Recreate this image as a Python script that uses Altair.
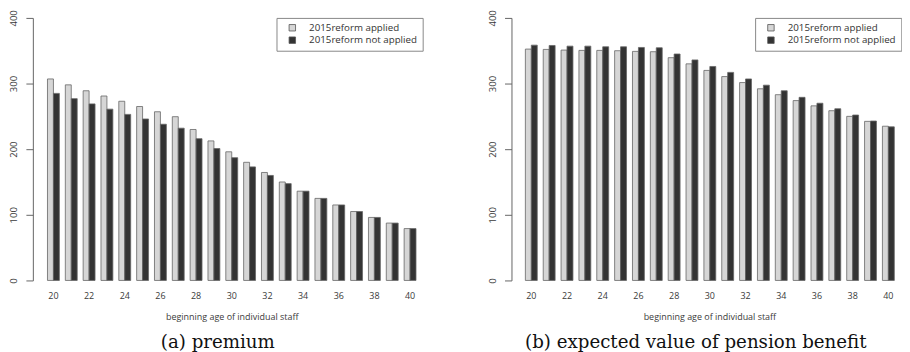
import altair as alt
import pandas as pd

ages = list(range(20, 41))
series = ["2015reform applied", "2015reform not applied"]

premium_applied = [307, 298, 289, 281, 273, 265, 257, 249.5, 230, 212.6, 196, 180, 164.5, 150, 136, 125, 115, 105, 96, 87.4, 79]
premium_not_applied = [285, 277, 269, 261, 253, 246, 238, 232, 216, 201, 187, 173, 160, 147.5, 136, 125, 115, 105, 96, 87.4, 79]

benefit_applied = [352.5, 352, 351, 350.5, 350.5, 350, 349, 348.5, 339.4, 330, 320, 310.6, 301.5, 292, 283, 274, 266, 258.6, 250, 242.4, 235]
benefit_not_applied = [358.5, 358, 357, 357, 356, 356, 355, 354.5, 345, 336, 326, 317, 307, 297.5, 289, 279, 270, 261.6, 252, 242.9, 234]

x_ticks = [20, 22, 24, 26, 28, 30, 32, 34, 36, 38, 40]
y_ticks = [0, 100, 200, 300, 400]

SANS = "Open Sans"
SERIF = "DejaVu Serif"
TXT = "#3a3a3a"


def frame(a, b):
    rows = []
    for i, age in enumerate(ages):
        rows.append({"age": age, "series": series[0], "value": a[i]})
        rows.append({"age": age, "series": series[1], "value": b[i]})
    return pd.DataFrame(rows)


def panel(df, caption, width, pad_outer, align, cap_dx, title_x=None):
    xaxis_kwargs = dict(
        values=x_ticks, labelAngle=0, ticks=False, domain=False,
        labelFont=SANS, labelFontSize=9, labelColor=TXT, labelPadding=11,
        title="beginning age of individual staff", titleFont=SANS,
        titleFontSize=9, titleFontWeight="normal", titleColor=TXT,
        titlePadding=12, grid=False,
    )
    if title_x is not None:
        xaxis_kwargs["titleX"] = title_x
    return alt.Chart(df).mark_bar(stroke="#666666", strokeWidth=0.8).encode(
        x=alt.X("age:O", scale=alt.Scale(paddingInner=1/3, paddingOuter=pad_outer, align=align),
                axis=alt.Axis(**xaxis_kwargs)),
        xOffset=alt.XOffset("series:N", sort=series, scale=alt.Scale(paddingInner=0, paddingOuter=0)),
        y=alt.Y("value:Q", scale=alt.Scale(domain=[0, 400], nice=False),
                axis=alt.Axis(values=y_ticks, title=None, grid=False, tickSize=7,
                              tickColor="#666666", domainColor="#666666",
                              labelAngle=270, labelAlign="center", labelBaseline="bottom",
                              labelFont=SANS, labelFontSize=9.5, labelColor=TXT, labelPadding=7)),
        color=alt.Color("series:N", sort=series,
                        scale=alt.Scale(domain=series, range=["#d6d6d6", "#333333"]),
                        legend=alt.Legend(title=None, orient="none", legendX=245, legendY=0,
                                          strokeColor="#888888", fillColor="white", padding=5,
                                          symbolOffset=6, symbolType="square", symbolSize=42,
                                          symbolStrokeColor="#555555", symbolStrokeWidth=0.8,
                                          labelFont=SANS, labelFontSize=9.8, labelColor="#333333",
                                          labelOffset=12, rowPadding=1.5)),
    ).properties(
        width=width, height=264,
        title=alt.TitleParams(caption, orient="bottom", anchor="middle", font=SERIF,
                              fontSize=18.3, fontWeight="normal", color="#111111",
                              offset=13, dx=cap_dx),
    )


left = panel(frame(premium_applied, premium_not_applied), "(a) premium", 400, 0.82, 0.5, -14)
right = panel(frame(benefit_applied, benefit_not_applied), "(b) expected value of pension benefit",
              386.7, 0.437, 0.89, -8, title_x=199)

chart = alt.hconcat(left, right, spacing=81.3, bounds="flush").resolve_legend(
    color="independent"
).resolve_scale(x="independent", color="independent").properties(
    padding={"left": 1, "top": 0, "right": 0, "bottom": 0}
).configure_view(stroke=None)

chart.save("out.html", embed_options={"renderer": "svg", "actions": False})
